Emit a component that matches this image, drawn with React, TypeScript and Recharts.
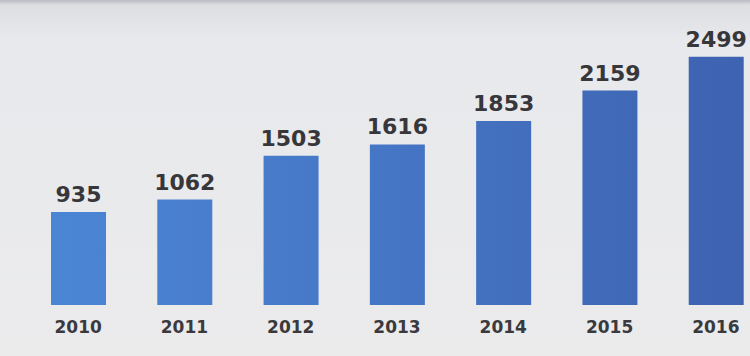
import React from 'react';
import { BarChart, Bar, XAxis, YAxis, LabelList } from 'recharts';

const years = ['2010', '2011', '2012', '2013', '2014', '2015', '2016'];
const counts = [935, 1062, 1503, 1616, 1853, 2159, 2499];

const data = years.map((year, i) => ({ year, count: counts[i] }));

const font = 'DejaVu Sans, Verdana, sans-serif';

const App: React.FC = () => {
  return (
    <div
      style={{
        position: 'absolute',
        left: 0,
        top: 0,
        width: 750,
        height: 356,
        background: 'linear-gradient(180deg, #b9bcc3 0px, #dcdee2 5px, #e8e9ec 40px, #ebebec 100%)',
        overflow: 'hidden',
      }}
    >
      <BarChart
        width={750}
        height={356}
        data={data}
        margin={{ top: 7, right: -19, bottom: 0, left: 25 }}
      >
        <defs>
          <linearGradient id="barFill" gradientUnits="userSpaceOnUse" x1="0" y1="0" x2="750" y2="0">
            <stop offset="0%" stopColor="#4b88d6" />
            <stop offset="50%" stopColor="#4676c6" />
            <stop offset="100%" stopColor="#3d62b0" />
          </linearGradient>
        </defs>
        <XAxis
          dataKey="year"
          axisLine={false}
          tickLine={false}
          height={51}
          interval={0}
          tick={{ fill: '#3a3a3e', fontSize: 17, fontWeight: 700, fontFamily: font }}
          dy={8}
        />
        <YAxis hide domain={[0, 3000]} />
        <Bar dataKey="count" fill="url(#barFill)" barSize={55} isAnimationActive={false}>
          <LabelList
            dataKey="count"
            position="top"
            offset={10}
            fill="#37373b"
            fontSize={22}
            fontWeight={700}
            fontFamily={font}
          />
        </Bar>
      </BarChart>
    </div>
  );
};

export default App;
